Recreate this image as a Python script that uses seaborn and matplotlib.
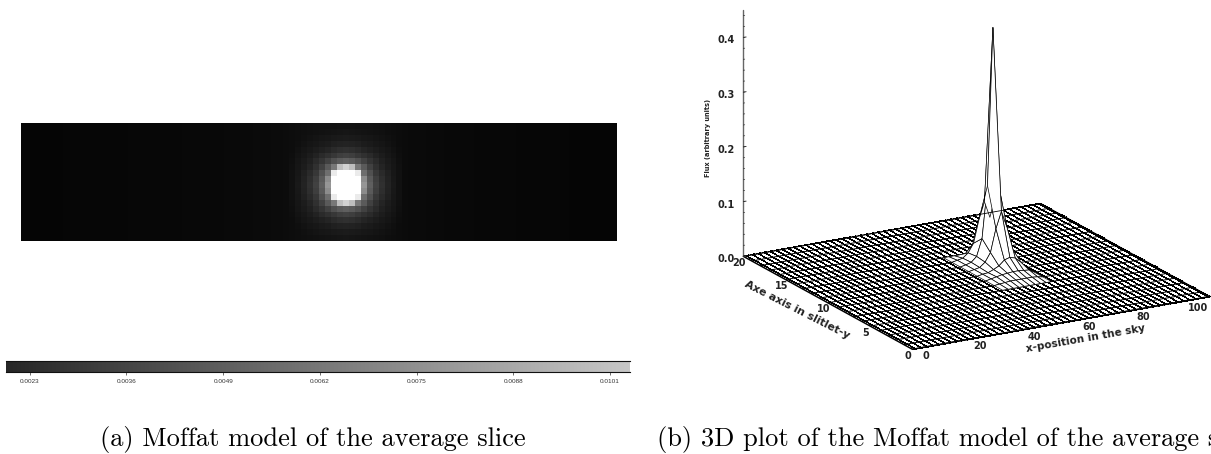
import numpy as np
import pandas as pd
import seaborn as sns
import matplotlib.pyplot as plt

# panel (a): gray levels (0-255), 100 x 20 cells
background_gray = [5, 5, 5, 5, 5, 5, 5, 6, 6, 6, 6, 6, 6, 6, 6, 6, 6, 6, 7, 7,
                   7, 7, 7, 7, 7, 7, 7, 8, 8, 8, 8, 8, 8, 8, 9, 9, 9, 9, 9, 10,
                   10, 10, 11, 11, 12, 13, 14, 15, 16, 17, 17, 17, 17, 17, 17, 17, 17, 17, 17, 16,
                   15, 14, 13, 12, 11, 10, 10, 10, 9, 9, 9, 8, 8, 8, 8, 8, 7, 7, 7, 7,
                   7, 7, 7, 6, 6, 6, 6, 6, 6, 6, 6, 6, 5, 5, 5, 5, 5, 5, 5, 5]
# one quadrant of the star, rows = rows from centre, columns = columns from centre
core_gray = [[255, 255, 255, 150, 95, 65, 48, 35, 25, 17],
             [255, 255, 255, 140, 90, 62, 46, 34, 24, 17],
             [255, 255, 235, 110, 80, 55, 42, 32, 23, 17],
             [210, 190, 120, 90, 65, 48, 36, 28, 22, 16],
             [95, 90, 80, 65, 52, 42, 32, 26, 21, 15],
             [65, 62, 55, 48, 42, 34, 28, 23, 19, 14],
             [48, 46, 42, 36, 32, 28, 24, 21, 17, 13],
             [35, 34, 32, 28, 26, 23, 21, 18, 15, 12],
             [27, 26, 25, 23, 22, 20, 18, 16, 14, 11],
             [22, 21, 20, 19, 18, 17, 16, 14, 13, 10],
             [18, 18, 17, 16, 15, 14, 13, 12, 11, 9]]
core_col = 54
core_row = 10
flux_max = 0.0133
cbar_ticks = [0.0023, 0.0036, 0.0049, 0.0062, 0.0075, 0.0088, 0.0101]
cbar_lim = (0.00198, 0.01037)

# panel (b): flux around the peak, only the part that shows in front of the spike
surf_x = [55, 57, 59, 61, 63, 65, 67, 69, 71, 73]
surf_y = [7, 8, 9, 10, 11, 12, 13, 14]
surf_flux = [[0, 0, 0, 0, 0, 0, 0, 0, 0, 0],
             [0, 0.001, 0.002, 0.003, 0.003, 0.003, 0.003, 0.003, 0.002, 0],
             [0, 0.002, 0.004, 0.006, 0.007, 0.008, 0.008, 0.007, 0.006, 0],
             [0, 0.002, 0.003, 0.007, 0.012, 0.021, 0.024, 0.021, 0.012, 0],
             [0, 0.002, 0.004, 0.012, 0.028, 0.070, 0.100, 0.070, 0.028, 0],
             [0, 0.002, 0.005, 0.014, 0.045, 0.140, 0.427, 0.140, 0.045, 0],
             [0, 0.002, 0.004, 0.012, 0.028, 0.070, 0.100, 0.070, 0.028, 0],
             [0, 0, 0, 0, 0, 0, 0, 0, 0, 0]]
x_top = 109.6
x_ticks = [0, 20, 40, 60, 80, 100]
y_ticks = [0, 5, 10, 15, 20]
z_ticks = [0.0, 0.1, 0.2, 0.3, 0.4]
z_minor = [0.02 * i for i in range(23)]

W, H = 1211, 454
sns.set_style("white")
fig = plt.figure(figsize=(W / 100, H / 100), dpi=100)


def rect(left, top, right, bottom):
    return [left / W, 1 - bottom / H, (right - left) / W, (bottom - top) / H]


# heatmap
grid = np.tile(np.array(background_gray, dtype=float), (20, 1))
core = np.array(core_gray, dtype=float)
for r in range(20):
    for c in range(100):
        dr, dc = abs(r - core_row), abs(c - core_col)
        if dr < core.shape[0] and dc < core.shape[1]:
            grid[r, c] = max(grid[r, c], core[dr, dc])
grid = pd.DataFrame(grid / 255 * flux_max)

ax_img = fig.add_axes(rect(21, 123, 617, 241))
ax_bar = fig.add_axes(rect(6, 361, 630, 372))
sns.heatmap(grid, ax=ax_img, cmap="gray", vmin=0, vmax=flux_max, cbar_ax=ax_bar,
            cbar_kws={"orientation": "horizontal"}, xticklabels=False, yticklabels=False)
ax_bar.set_xlim(*cbar_lim)
ax_bar.set_xticks(cbar_ticks)
ax_bar.set_xticklabels(["%.4f" % t for t in cbar_ticks], fontsize=4.6, color="#333333",
                       family="Liberation Sans")
ax_bar.tick_params(axis="x", length=2, width=0.5, pad=3, color="#333333", bottom=True)
ax_bar.minorticks_off()
for side, spine in ax_bar.spines.items():
    spine.set_visible(side in ("top", "bottom"))
    spine.set_linewidth(0.8)
    spine.set_color("#111111")

# 3D surface
ax = fig.add_axes(rect(703, -106, 1236, 427), projection="3d", proj_type="ortho")
ax.computed_zorder = False
ax.view_init(elev=18.2, azim=-119.6)
ax.set_box_aspect((342, 342, 259))
ax.set_xlim(0, x_top)
ax.set_ylim(0, 20)
ax.set_zlim(0, 0.45)
ax.set_axis_off()
ax.patch.set_alpha(0)

# floor: black rows broken up by white columns gives the dither of the original
hx, hy = np.meshgrid(np.array([0, x_top]), np.arange(0, 20.01, 0.25))
ax.plot_wireframe(hx, hy, np.zeros_like(hx), rstride=1, cstride=0, color="black",
                  linewidth=0.72, antialiased=False, zorder=1)
hx, hy = np.meshgrid(np.arange(0, x_top, 2.2), np.array([0, 20]))
ax.plot_wireframe(hx, hy, np.zeros_like(hx), rstride=0, cstride=1, color="white",
                  linewidth=0.5, antialiased=False, zorder=2)
hx, hy = np.meshgrid(np.array([0, x_top]), np.arange(0, 21, 1))
ax.plot_wireframe(hx, hy, np.zeros_like(hx), rstride=1, cstride=0, color="black",
                  linewidth=0.7, zorder=2)

sx, sy = np.meshgrid(surf_x, surf_y)
ax.plot_surface(sx, sy, np.array(surf_flux), rstride=1, cstride=1, color="white",
                edgecolor="black", linewidth=0.5, shade=False, zorder=3)

# axes drawn by hand, IDL style
ax.plot([0, 0], [20, 20], [0, 0.45], color="#666666", lw=1, zorder=4)
ax.plot([0, x_top], [0, 0], [0, 0], color="black", lw=1.1, zorder=4)
ax.plot([0, 0], [0, 20], [0, 0], color="black", lw=1.1, zorder=4)
ax.plot([x_top, x_top], [0, 20], [0, 0], color="black", lw=0.6, zorder=4)
ax.plot([0, x_top], [20, 20], [0, 0], color="black", lw=0.6, zorder=4)
for z in z_minor:
    ax.plot([0, 0.5], [20, 20], [z, z], color="#333333", lw=0.5, zorder=4)
for z in z_ticks:
    ax.plot([0, 1], [20, 20], [z, z], color="#333333", lw=0.7, zorder=4)

lab = dict(fontsize=7, fontweight="bold", family="DejaVu Sans", ha="center", va="center", color="#222222")
for z in z_ticks:
    ax.text(-6.2, 20, z, "%.1f" % z, **lab)
for x in x_ticks:
    ax.text(x + 1, -1.3, -0.002, str(x), rotation=-15, **lab)
for y in y_ticks:
    ax.text(-3.5, y - 0.6, -0.004, str(y), rotation=-35, **lab)
fig.text(708 / W, 1 - 138 / H, "Flux (arbitrary units)", rotation=90,
         **{**lab, "fontsize": 4.8})
fig.text(1086 / W, 1 - 339 / H, "x-position in the sky", rotation=10,
         **{**lab, "fontsize": 7.6})
fig.text(797 / W, 1 - 310 / H, "Axe axis in slitlet-y", rotation=-27,
         **{**lab, "fontsize": 7.8})

# captions
cap = dict(fontsize=19, family="cmr10", ha="left", va="baseline", color="black")
fig.text(100 / W, 1 - 446 / H, "(a) Moffat model of the average slice", **cap)
fig.text(657 / W, 1 - 446 / H, "(b) 3D plot of the Moffat model of the average slice", **cap)

plt.savefig("out.png", dpi=100)
